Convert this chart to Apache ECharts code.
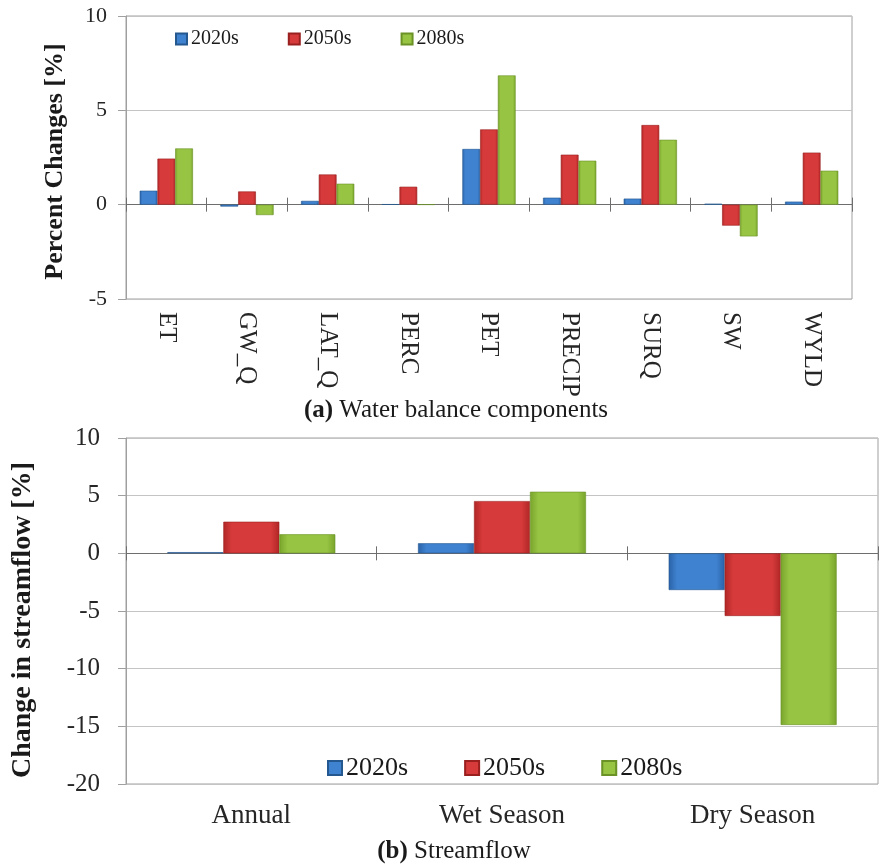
<!DOCTYPE html>
<html>
<head>
<meta charset="utf-8">
<script src="https://cdn.jsdelivr.net/npm/echarts@6/dist/echarts.min.js"></script>
<style>
  html, body { margin: 0; padding: 0; background: #fff; }
  #chart { width: 880px; height: 864px; }
</style>
</head>
<body>
<div id="chart"></div>
<script>
// Panel (a): water balance components, percent change
const components = ['ET', 'GW_Q', 'LAT_Q', 'PERC', 'PET', 'PRECIP', 'SURQ', 'SW', 'WYLD'];
const wb2020s = [0.74, -0.10, 0.20, 0.02, 2.95, 0.37, 0.32, 0.05, 0.16];
const wb2050s = [2.44, 0.70, 1.60, 0.95, 3.99, 2.65, 4.22, -1.11, 2.76];
const wb2080s = [2.98, -0.55, 1.11, 0.01, 6.85, 2.33, 3.44, -1.68, 1.80];

// Panel (b): streamflow change
const periods = ['Annual', 'Wet Season', 'Dry Season'];
const sf2020s = [0.10, 0.87, -3.18];
const sf2050s = [2.74, 4.53, -5.43];
const sf2080s = [1.65, 5.34, -14.88];

const topTicks = [-5, 0, 5, 10];
const bottomTicks = [-20, -15, -10, -5, 0, 5, 10];

const serif = '"Liberation Serif", "Times New Roman", serif';
const ink = '#1a1a1a';

function barFill(dark, light) {
  return new echarts.graphic.LinearGradient(0, 0, 1, 0, [
    { offset: 0, color: dark },
    { offset: 0.15, color: light },
    { offset: 0.85, color: light },
    { offset: 1, color: dark }
  ]);
}
const fills = {
  '2020s': { fill: () => barFill('#2a62a8', '#3f82d0'), border: '#24588f' },
  '2050s': { fill: () => barFill('#b02626', '#d63a3a'), border: '#9a2020' },
  '2080s': { fill: () => barFill('#78a42c', '#98c443'), border: '#6a9226' }
};

function bars(name, data, xi, yi, gap) {
  return {
    name, type: 'bar', data, xAxisIndex: xi, yAxisIndex: yi,
    barGap: '0%', barCategoryGap: gap,
    itemStyle: { color: fills[name].fill(), borderColor: fills[name].border, borderWidth: 0.6 },
    emphasis: { disabled: true }
  };
}

// Zero line with boundary ticks; a 'bottom' copy ticks downward, a 'top' copy ticks upward
function zeroAxis(gridIndex, yIndex, cats, position) {
  return {
    type: 'category', gridIndex, data: cats, position,
    axisLine: { show: true, onZero: true, onZeroAxisIndex: yIndex, lineStyle: { color: '#6e6e6e', width: 1.2 } },
    axisTick: { show: true, inside: false, length: 7, lineStyle: { color: '#6e6e6e' } },
    axisLabel: { show: false }, splitLine: { show: false }
  };
}

function caption(tag, text, x, y) {
  return {
    text: '{b|' + tag + '} ' + text, left: x, top: y, textAlign: 'center',
    textStyle: { fontFamily: serif, fontSize: 25, fontWeight: 'normal', color: ink,
      rich: { b: { fontFamily: serif, fontSize: 25, fontWeight: 'bold', color: ink } } }
  };
}

const chart = echarts.init(document.getElementById('chart'), null, { renderer: 'canvas' });

chart.setOption({
  animation: false,
  backgroundColor: '#ffffff',
  title: [
    caption('(a)', 'Water balance components', 451, 393),
    caption('(b)', 'Streamflow', 449, 834)
  ],
  legend: [
    { data: ['2020s', '2050s', '2080s'], left: 170, top: 24, itemWidth: 11, itemHeight: 11,
      itemGap: 49, icon: 'rect',
      textStyle: { fontFamily: serif, fontSize: 20, color: ink, padding: [0, 0, 0, -1] } },
    { data: ['2020s', '2050s', '2080s'], left: 322, top: 750, itemWidth: 14, itemHeight: 14,
      itemGap: 56, icon: 'rect',
      textStyle: { fontFamily: serif, fontSize: 26, color: ink, padding: [0, 0, 0, -1] } }
  ],
  grid: [
    { left: 126, right: 28, top: 16, bottom: 565, show: true, borderColor: '#a0a0a0', borderWidth: 1 },
    { left: 126, right: 2, top: 438, bottom: 80, show: true, borderColor: '#a0a0a0', borderWidth: 1 }
  ],
  xAxis: [
    // labels along the bottom of panel (a)
    { type: 'category', gridIndex: 0, data: components, position: 'bottom',
      axisLine: { show: false, onZero: false }, axisTick: { show: false },
      axisLabel: { rotate: -90, fontFamily: serif, fontSize: 25, color: '#262626', margin: 13 } },
    zeroAxis(0, 0, components, 'bottom'),
    zeroAxis(0, 0, components, 'top'),
    // labels along the bottom of panel (b)
    { type: 'category', gridIndex: 1, data: periods, position: 'bottom',
      axisLine: { show: false, onZero: false }, axisTick: { show: false },
      axisLabel: { fontFamily: serif, fontSize: 27, color: '#262626', margin: 18 } },
    zeroAxis(1, 1, periods, 'bottom'),
    zeroAxis(1, 1, periods, 'top')
  ],
  yAxis: [
    { type: 'value', gridIndex: 0, min: -5, max: 10, interval: 5,
      name: 'Percent Changes [%]', nameLocation: 'middle', nameGap: 58,
      nameTextStyle: { fontFamily: serif, fontSize: 26, fontWeight: 'bold', color: ink, padding: [0, 8, 0, 0] },
      axisLine: { show: true, lineStyle: { color: '#a0a0a0' } },
      axisTick: { show: true, length: 8, lineStyle: { color: '#a0a0a0' } },
      axisLabel: { fontFamily: serif, fontSize: 22, color: '#262626', margin: 19,
        formatter: v => topTicks.includes(v) ? String(v) : '' },
      splitLine: { show: true, lineStyle: { color: '#c4c4c4' } } },
    { type: 'value', gridIndex: 1, min: -20, max: 10, interval: 5,
      name: 'Change in streamflow [%]', nameLocation: 'middle', nameGap: 89,
      nameTextStyle: { fontFamily: serif, fontSize: 28, fontWeight: 'bold', color: ink, padding: [0, 18, 0, 0] },
      axisLine: { show: true, lineStyle: { color: '#a0a0a0' } },
      axisTick: { show: true, length: 8, lineStyle: { color: '#a0a0a0' } },
      axisLabel: { fontFamily: serif, fontSize: 25, color: '#262626', margin: 26,
        formatter: v => bottomTicks.includes(v) ? String(v) : '' },
      splitLine: { show: true, lineStyle: { color: '#c4c4c4' } } }
  ],
  series: [
    bars('2020s', wb2020s, 0, 0, '34%'),
    bars('2050s', wb2050s, 0, 0, '34%'),
    bars('2080s', wb2080s, 0, 0, '34%'),
    bars('2020s', sf2020s, 3, 1, '33%'),
    bars('2050s', sf2050s, 3, 1, '33%'),
    bars('2080s', sf2080s, 3, 1, '33%')
  ]
});
</script>
</body>
</html>
